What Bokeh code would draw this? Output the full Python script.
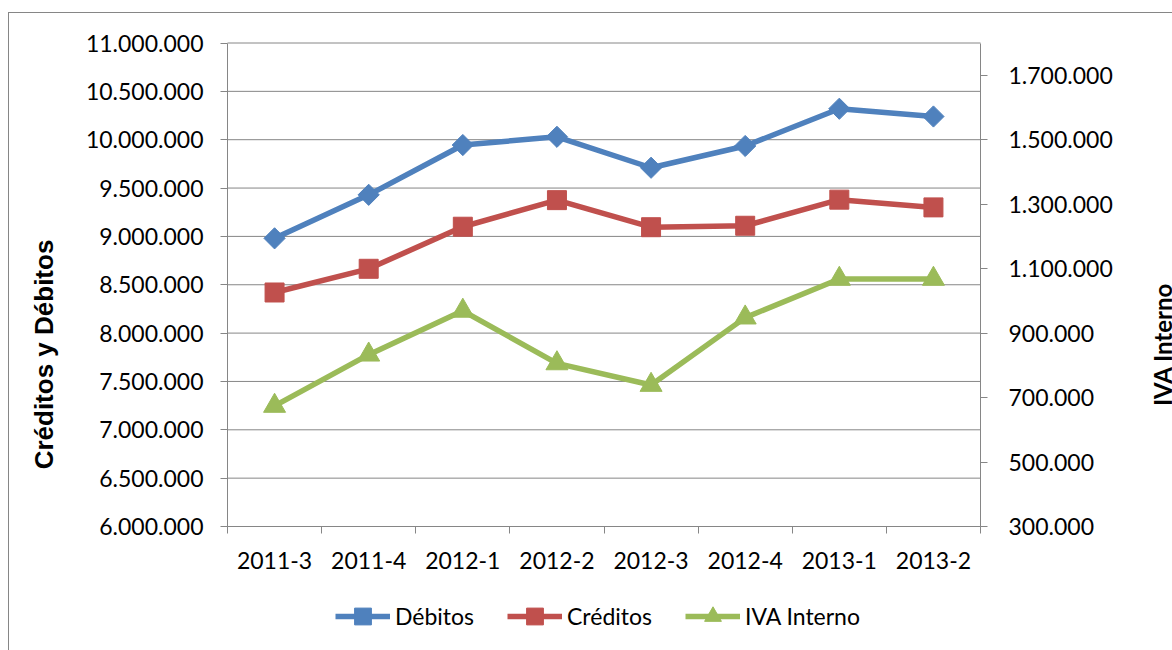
import numpy as np
from bokeh.plotting import figure
from bokeh.models import (Range1d, LinearAxis, FixedTicker, Legend, LegendItem, Label)
from bokeh.embed import file_html
from bokeh.resources import INLINE

categories = ["2011-3", "2011-4", "2012-1", "2012-2", "2012-3", "2012-4", "2013-1", "2013-2"]
debitos = [8980000, 9430000, 9945000, 10030000, 9710000, 9935000, 10320000, 10240000]
creditos = [8420000, 8665000, 9100000, 9375000, 9095000, 9110000, 9380000, 9300000]
iva_interno = [674000, 833000, 969000, 806000, 739000, 948000, 1068000, 1068000]

left_ticks = [6000000, 6500000, 7000000, 7500000, 8000000, 8500000, 9000000, 9500000,
              10000000, 10500000, 11000000]
right_ticks = [300000, 500000, 700000, 900000, 1100000, 1300000, 1500000, 1700000]
left_range = (6000000, 11000000)
right_range = (300000, 1800000)

def fmt(v):
    return f"{v:,}".replace(",", ".")

GRID = "#868686"
C_DEB = "#4F81BD"
C_CRE = "#C0504D"
C_IVA = "#9BBB59"
FONT = "Lato"

# page geometry (pixels)
W, H = 1172, 650
PL, PR, PT, PB = 227.0, 980.0, 42.5, 526.0   # plot-area edges

n = len(categories)
xs = [i + 0.5 for i in range(n)]

# map the whole canvas to data space so that the plot area lands at PL..PR / PT..PB
xpp = n / (PR - PL)
x0, x1 = -PL * xpp, n + (W - PR) * xpp
def yr(lo, hi):
    upp = (hi - lo) / (PB - PT)
    return Range1d(lo - (H - PB) * upp, hi + PT * upp)

p = figure(width=W, height=H, min_border=0,
           x_range=Range1d(x0, x1), y_range=yr(*left_range),
           x_axis_location=None, y_axis_location=None,
           output_backend="svg", toolbar_location=None, tools="")
p.stylesheets = [
    ":host::before { content: ''; position: absolute; left: 8px; top: 12px; right: 0; bottom: 0;"
    " border-left: 1px solid #868686; border-top: 1px solid #868686;"
    " pointer-events: none; z-index: 100; }"
]
p.outline_line_color = None
p.background_fill_color = "white"
p.border_fill_color = "white"
p.xgrid.visible = False
p.ygrid.visible = False
p.extra_y_ranges = {"iva": yr(*right_range)}

# horizontal gridlines across the plot area
p.segment(x0=[0] * len(left_ticks), x1=[n] * len(left_ticks), y0=left_ticks, y1=left_ticks,
          line_color=GRID, line_width=1)

def style_axis(ax, standoff):
    ax.axis_line_color = GRID
    ax.major_tick_line_color = GRID
    ax.minor_tick_line_color = None
    ax.major_tick_out = 7
    ax.major_tick_in = 0
    ax.major_label_text_font = FONT
    ax.major_label_text_font_size = "23px"
    ax.major_label_text_color = "black"
    ax.major_label_standoff = standoff

# x axis
xax = LinearAxis(fixed_location=left_range[0], bounds=(0, n),
                 ticker=FixedTicker(ticks=xs, minor_ticks=list(range(n + 1))))
style_axis(xax, 18)
xax.major_label_overrides = {x: c for x, c in zip(xs, categories)}
xax.major_tick_out = 0
xax.minor_tick_line_color = GRID
xax.minor_tick_out = 7
xax.minor_tick_in = 0
p.add_layout(xax, "below")

# left axis
yax = LinearAxis(fixed_location=0, bounds=left_range, ticker=FixedTicker(ticks=left_ticks))
style_axis(yax, 17)
yax.major_label_overrides = {v: fmt(v) for v in left_ticks}
p.add_layout(yax, "left")

# right axis
rax = LinearAxis(fixed_location=n, y_range_name="iva", bounds=right_range,
                 ticker=FixedTicker(ticks=right_ticks))
style_axis(rax, 21)
rax.major_label_overrides = {v: fmt(v) for v in right_ticks}
p.add_layout(rax, "right")

# series
l1 = p.line(xs, debitos, line_color=C_DEB, line_width=5.5)
m1 = p.scatter(xs, debitos, marker="square", angle=np.pi / 4, size=15,
               fill_color=C_DEB, line_color=C_DEB)
l2 = p.line(xs, creditos, line_color=C_CRE, line_width=5.5)
m2 = p.scatter(xs, creditos, marker="square", size=19, fill_color=C_CRE, line_color=C_CRE)
l3 = p.line(xs, iva_interno, line_color=C_IVA, line_width=5.5, y_range_name="iva")
m3 = p.scatter(xs, iva_interno, marker="triangle", size=22, fill_color=C_IVA,
               line_color=C_IVA, y_range_name="iva")

legend = Legend(items=[
    LegendItem(label="Débitos", renderers=[l1, m1]),
    LegendItem(label="Créditos", renderers=[l2, m2]),
    LegendItem(label="IVA Interno", renderers=[l3, m3]),
], orientation="horizontal", location=(335, 13))
legend.border_line_color = None
legend.background_fill_alpha = 0
legend.padding = 0
legend.margin = 0
legend.glyph_width = 55
legend.glyph_height = 42
legend.label_standoff = 5
legend.spacing = 33
legend.label_text_font = FONT
legend.label_text_font_size = "23px"
legend.label_text_color = "black"
legend.label_text_baseline = "middle"
p.add_layout(legend, "center")

# axis titles
lo, hi = left_range
def ly(page_y):
    return lo + (PB - page_y) / (PB - PT) * (hi - lo)
def lx(page_x):
    return (page_x - PL) * xpp

p.add_layout(Label(x=lx(43), y=ly(354), text="Créditos y Débitos", angle=np.pi / 2,
                   text_align="center", text_baseline="middle",
                   text_font="Liberation Sans", text_font_style="bold",
                   text_font_size="26px", text_color="black"))
p.add_layout(Label(x=lx(1162), y=ly(344), text="IVA Interno", angle=np.pi / 2,
                   text_align="center", text_baseline="middle",
                   text_font=FONT, text_font_style="bold",
                   text_font_size="24px", text_color="black"))

open("out.html", "w").write(file_html(p, INLINE))
